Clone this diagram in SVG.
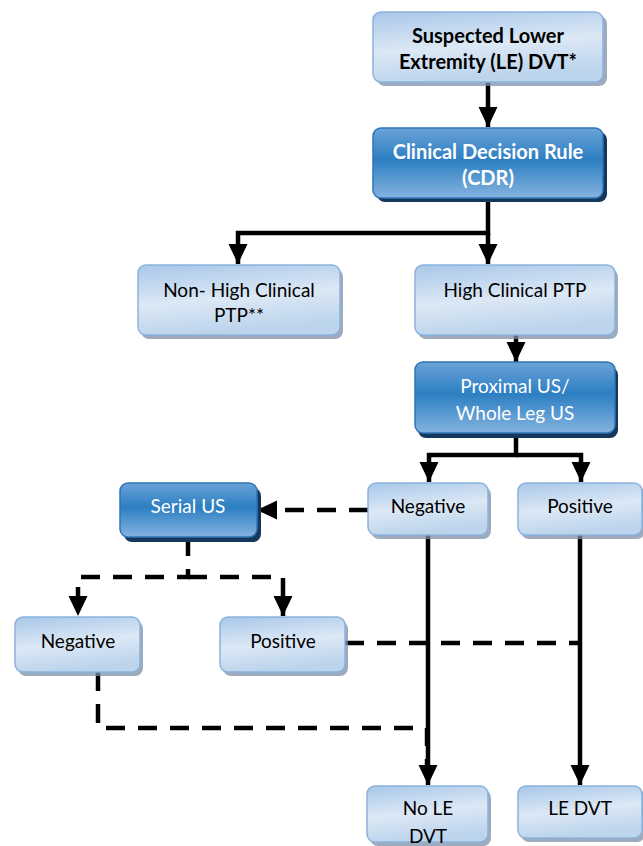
<svg xmlns="http://www.w3.org/2000/svg" width="643" height="846" viewBox="0 0 643 846">
<defs>
<linearGradient id="gLight" x1="0" y1="0" x2="0.25" y2="1">
<stop offset="0" stop-color="#a8c7e9"/>
<stop offset="0.55" stop-color="#dce8f5"/>
<stop offset="1" stop-color="#bcd4ec"/>
</linearGradient>
<linearGradient id="gDark" x1="0" y1="0" x2="0" y2="1">
<stop offset="0" stop-color="#6aa2d8"/>
<stop offset="0.45" stop-color="#2c7fc2"/>
<stop offset="1" stop-color="#86b3e0"/>
</linearGradient>
<marker id="ah" markerUnits="userSpaceOnUse" markerWidth="22" markerHeight="22" viewBox="0 0 22 22" refX="20" refY="11" orient="auto">
<path d="M0,1.5 L20,11 L0,20.5 Z" fill="#000"/>
</marker>
<style>
.light rect.b{fill:url(#gLight);stroke:#8ab2dd;stroke-width:1.5}
.light rect.s{fill:#7d8fa8;opacity:0.75}
.dark rect.b{fill:url(#gDark);stroke:#2f74b5;stroke-width:1.5}
.dark rect.s{fill:#16375c}
text{font-family:Lato,"Liberation Sans",sans-serif;font-size:19px;text-anchor:middle}
.light text{fill:#000}
.dark text{fill:#fff}
.bold{font-weight:bold;font-size:20px}
.c{fill:none;stroke:#000;stroke-width:4.5}
.d{stroke-dasharray:19 13}
</style>
</defs>

<g id="connectors">
<path class="c" d="M488,82 V127" marker-end="url(#ah)"/>
<path class="c" d="M488,198 V233 H238 V264" marker-end="url(#ah)"/>
<path class="c" d="M488,233 V264" marker-end="url(#ah)"/>
<path class="c" d="M516,335 V362" marker-end="url(#ah)"/>
<path class="c" d="M516,433 V455 H429 V482" marker-end="url(#ah)"/>
<path class="c" d="M516,455 H581 V482" marker-end="url(#ah)"/>
<path class="c d" d="M368,510 H257" marker-end="url(#ah)"/>
<path class="c d" d="M188,537 V577 H78 V616" marker-end="url(#ah)"/>
<path class="c d" d="M188,577 H283 V616" marker-end="url(#ah)"/>
<path class="c d" d="M345,643 H578"/>
<path class="c d" d="M98,672 V728 H427 V785"/>
<path class="c" d="M428,535 V785" marker-end="url(#ah)"/>
<path class="c" d="M580,535 V785" marker-end="url(#ah)"/>
</g>

<g id="n-suspected" class="light">
<rect class="s" x="377" y="16" width="230" height="70" rx="8"/>
<rect class="b" x="373" y="12" width="230" height="70" rx="8"/>
<text class="bold" x="488" y="43">Suspected Lower</text>
<text class="bold" x="488" y="69">Extremity (LE) DVT*</text>
</g>

<g id="n-cdr" class="dark">
<rect class="s" x="377" y="132" width="230" height="70" rx="8"/>
<rect class="b" x="373" y="128" width="230" height="70" rx="8"/>
<text class="bold" x="488" y="159">Clinical Decision Rule</text>
<text class="bold" x="488" y="185">(CDR)</text>
</g>

<g id="n-nonhigh" class="light">
<rect class="s" x="141" y="269" width="202" height="70" rx="8"/>
<rect class="b" x="138" y="265" width="202" height="70" rx="8"/>
<text x="239" y="297">Non- High Clinical</text>
<text x="239" y="322">PTP**</text>
</g>

<g id="n-high" class="light">
<rect class="s" x="418" y="269" width="200" height="70" rx="8"/>
<rect class="b" x="415" y="265" width="200" height="70" rx="8"/>
<text x="515" y="297">High Clinical PTP</text>
</g>

<g id="n-proximal" class="dark">
<rect class="s" x="418" y="367" width="200" height="71" rx="8"/>
<rect class="b" x="415" y="362" width="200" height="71" rx="8"/>
<text x="515" y="393">Proximal US/</text>
<text x="515" y="420">Whole Leg US</text>
</g>

<g id="n-neg1" class="light">
<rect class="s" x="371" y="487" width="120" height="52" rx="8"/>
<rect class="b" x="368" y="483" width="120" height="52" rx="8"/>
<text x="428" y="513">Negative</text>
</g>

<g id="n-pos1" class="light">
<rect class="s" x="521" y="487" width="124" height="52" rx="8"/>
<rect class="b" x="518" y="483" width="124" height="52" rx="8"/>
<text x="580" y="513">Positive</text>
</g>

<g id="n-serial" class="dark">
<rect class="s" x="124" y="488" width="137" height="54" rx="8"/>
<rect class="b" x="120" y="483" width="137" height="54" rx="8"/>
<text x="188" y="513">Serial US</text>
</g>

<g id="n-neg2" class="light">
<rect class="s" x="18" y="621" width="125" height="55" rx="8"/>
<rect class="b" x="15" y="617" width="125" height="55" rx="8"/>
<text x="78" y="648">Negative</text>
</g>

<g id="n-pos2" class="light">
<rect class="s" x="223" y="621" width="125" height="55" rx="8"/>
<rect class="b" x="220" y="617" width="125" height="55" rx="8"/>
<text x="283" y="648">Positive</text>
</g>

<g id="n-nodvt" class="light">
<rect class="s" x="370" y="790" width="121" height="56" rx="8"/>
<rect class="b" x="367" y="786" width="121" height="56" rx="8"/>
<text x="428" y="815">No LE</text>
<text x="428" y="843">DVT</text>
</g>

<g id="n-ledvt" class="light">
<rect class="s" x="521" y="790" width="124" height="52" rx="8"/>
<rect class="b" x="518" y="786" width="124" height="52" rx="8"/>
<text x="580" y="815">LE DVT</text>
</g>
</svg>
